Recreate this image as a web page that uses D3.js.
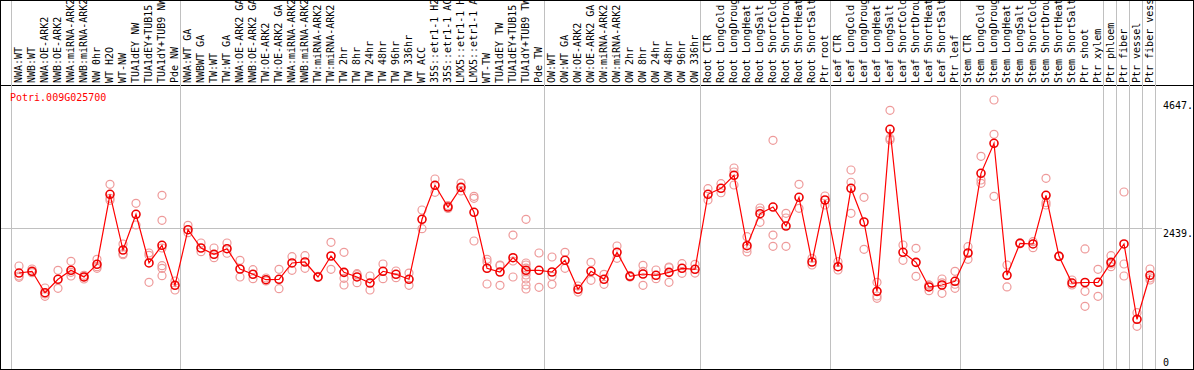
<!DOCTYPE html>
<html>
<head>
<meta charset="utf-8">
<script src="https://cdn.jsdelivr.net/npm/d3@7"></script>
<style>
  html, body { margin: 0; padding: 0; background: #fff; }
  svg { display: block; }
  text { font-family: "DejaVu Sans Mono", monospace; font-size: 10px; }
</style>
</head>
<body>
<svg id="chart" width="1194" height="370"></svg>
<script>
const title = "Potri.009G025700";

const categories = [
  "NWA:WT","NWB:WT","NWA:OE-ARK2","NWB:OE-ARK2","NWA:miRNA-ARK2","NWB:miRNA-ARK2","NW 0hr","WT H2O","WT-NW","TUA1dEY NW","TUA1dEY+TUB15","TUA1dY+TUB9 NW","Pde NW",
  "NWA:WT GA","NWBWT GA","TW:WT","TW:WT GA","NWA:OE-ARK2 GA","NWB:OE-ARK2 GA","TW:OE-ARK2","TW:OE-ARK2 GA","NWA:miRNA-ARK2","NWB:miRNA-ARK2","TW:miRNA-ARK2","TW:miRNA-ARK2","TW 2hr","TW 8hr","TW 24hr","TW 48hr","TW 96hr","TW 336hr","WT ACC","35S::etr1-1 H2","35S::etr1-1 AC","LMX5::etr1-1 H","LMX5::etr1-1 A","WT-TW","TUA1dEY TW","TUA1dEY+TUB15","TUA1dY+TUB9 TW","Pde TW",
  "OW:WT","OW:WT GA","OW:OE-ARK2","OW:OE-ARK2 GA","OW:miRNA-ARK2","OW:miRNA-ARK2","OW 2hr","OW 8hr","OW 24hr","OW 48hr","OW 96hr","OW 336hr",
  "Root CTR","Root LongCold","Root LongDroug","Root LongHeat","Root LongSalt","Root ShortCold","Root ShortDrou","Root ShortHeat","Root ShortSalt","Ptr root",
  "Leaf CTR","Leaf LongCold","Leaf LongDroug","Leaf LongHeat","Leaf LongSalt","Leaf ShortCold","Leaf ShortDrou","Leaf ShortHeat","Leaf ShortSalt","Ptr leaf",
  "Stem CTR","Stem LongCold","Stem LongDroug","Stem LongHeat","Stem LongSalt","Stem ShortCold","Stem ShortDrou","Stem ShortHeat","Stem ShortSalt","Ptr shoot","Ptr xylem",
  "Ptr phloem","Ptr fiber","Ptr vessel","Ptr fiber vess"
];

// indices of categories that start a group (separator lines), plus the end
const groupStarts = [0, 13, 41, 53, 63, 73, 84, 85, 86, 87, 88];

const means = [
  1669,1699,1330,1561,1716,1601,1819,3024,2065,2680,1842,2146,1458,
  2415,2100,1991,2088,1738,1647,1554,1561,1842,1859,1601,1962,1681,1601,1497,1699,1647,1561,2594,3179,2805,3144,2714,1750,1687,1933,1716,1716,
  1687,1888,1389,1699,1561,2026,1613,1652,1630,1681,1750,1733,
  3024,3127,3351,2139,2690,2805,2478,2972,1859,2926,
  1778,3127,2547,1354,4143,2026,1853,1429,1463,1527,
  2014,3385,3902,1630,2181,2169,3007,1957,1497,1506,1509,
  1853,2169,873,1630
];

const replicates = [
  [1790,1618,1595],[1738,1675,1690],[1411,1308,1268],[1716,1406],[1871,1681,1618],[1630,1566,1601],[1905,1778,1750],[3196,2955,2921],[2169,2002,1984],[2869,2496],[2014,1974,1509],[3007,2576,2100,1795,1750,1623],[1532,1377],
  [2490,2363],[2186,2036],[2100,1933],[2186,2009],[1888,1601],[1726,1571],[1583,1532],[1733,1399],[1950,1716],[1967,1750],[1610,1592],[2198,1733],[2026,1578,1463],[1657,1503,1640],[1618,1377],[1824,1571],[1704,1589],[1669,1458],[2754,2432],[3287,3058],[2830,2780],[3218,3081],[2990,2955,2220],[1905,1859,1480],[1807,1796,1458],[2323,1601,1876],[2594,1842,1807,1755,1687,1635,1566,1463,1394],[2014,1423],
  [1945,1613,1475],[2026,1750],[1446,1342],[1853,1544],[1647,1475],[2134,1922],[1625,1600],[1802,1458,1696],[1721,1571],[1773,1760,1509],[1830,1664],[1819,1669],
  [3120,2926],[3206,3051],[3477,3408,3184],[2294,2031,2092],[2788,2542,2740],[3953,2323,2129],[2697,2616,2129],[3196,2783],[1922,1807],[2995,2840],
  [1864,1721],[3442,3231,2697],[2972,2077],[1509,1274,1234],[4470,3988,3959],[2151,1888],[2095,1613],[1463,1365,1460],[1566,1320,1500],[1699,1406,1476],
  [2122,1905],[3678,3270,3213],[4647,4057,2990],[1807,1429],[2190,2172],[2208,2105],[3299,2840,2882],[1965,1950],[1549,1463],[2083,1354,1096],[1733,1268],
  [1967,1778,1824],[3064,1824,1618],[986,752],[1738,1583,1549]
];

const yTicks = [0, 2439, 4647];

const W = 1194, H = 370;
const svg = d3.select("#chart");

const x = d3.scaleBand()
  .domain(d3.range(categories.length + 1))
  .range([12.5, 12.5 + 13 * (categories.length + 1)])
  .padding(0);
const cx = i => x(i) + x.bandwidth() / 2;

const y = d3.scaleLinear().domain([0, 4647]).range([370, 100]);

// frame
svg.append("rect").attr("x", 0.5).attr("y", 0.5).attr("width", W - 1).attr("height", H - 1)
  .attr("fill", "none").attr("stroke", "#000");
svg.append("line").attr("x1", 0).attr("x2", W).attr("y1", 85.5).attr("y2", 85.5).attr("stroke", "#000");

// group separators
svg.append("g").selectAll("line").data(groupStarts).join("line")
  .attr("x1", d => Math.round(x(d) - 2) + 0.5).attr("x2", d => Math.round(x(d) - 2) + 0.5)
  .attr("y1", 1).attr("y2", H - 1)
  .attr("stroke", "#c0c0c0");

// horizontal gridline at the middle tick
svg.append("g").selectAll("line").data(yTicks.filter(t => t > 0 && t < 4647)).join("line")
  .attr("x1", 1).attr("x2", 1162)
  .attr("y1", d => Math.round(y(d)) + 0.5).attr("y2", d => Math.round(y(d)) + 0.5)
  .attr("stroke", "#c0c0c0");

// y tick labels on the right
svg.append("g").selectAll("text").data(yTicks).join("text")
  .attr("x", 1163)
  .attr("y", d => d === 0 ? y(d) - 4 : y(d) + 9)
  .attr("fill", "#000")
  .text(d => d === 0 ? "0" : d + ".");

// category labels
svg.append("g").selectAll("text").data(categories).join("text")
  .attr("transform", (d, i) => `translate(${cx(i) + 3},83) rotate(-90)`)
  .attr("fill", "#000")
  .text(d => d);

// title
svg.append("text").attr("x", 10).attr("y", 101).attr("fill", "#ff0000").text(title);

// replicates
const repData = [];
replicates.forEach((arr, i) => arr.forEach(v => repData.push({ i, v })));
svg.append("g").selectAll("circle").data(repData).join("circle")
  .attr("cx", d => cx(d.i)).attr("cy", d => y(d.v)).attr("r", 4)
  .attr("fill", "none").attr("stroke", "#ee9a9a").attr("stroke-width", 1.2);

// mean line
svg.append("path").datum(means)
  .attr("d", d3.line().x((d, i) => cx(i)).y(d => y(d)))
  .attr("fill", "none").attr("stroke", "#ff0000").attr("stroke-width", 1.2);

// mean markers
svg.append("g").selectAll("circle").data(means).join("circle")
  .attr("cx", (d, i) => cx(i)).attr("cy", d => y(d)).attr("r", 4)
  .attr("fill", "none").attr("stroke", "#ee0000").attr("stroke-width", 1.6);
</script>
</body>
</html>
